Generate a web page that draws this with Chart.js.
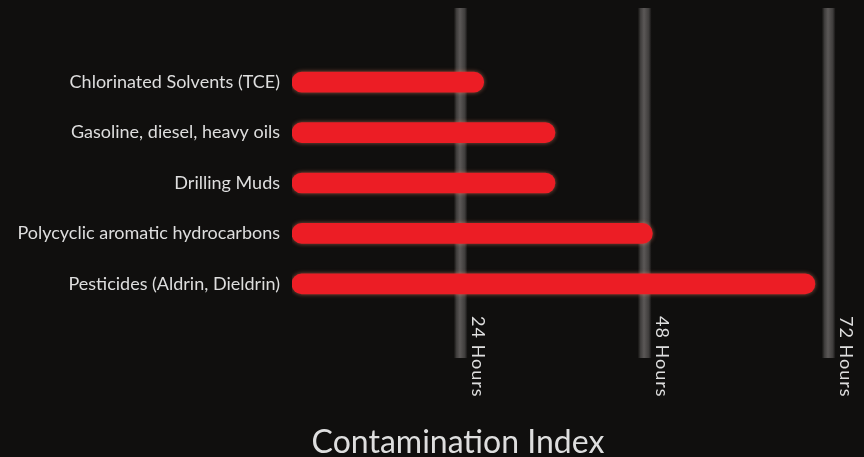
<!DOCTYPE html>
<html>
<head>
<meta charset="utf-8">
<script src="https://cdn.jsdelivr.net/npm/chart.js@4"></script>
<style>
  html, body { margin: 0; padding: 0; background: #100f0e; }
  #wrap { width: 864px; height: 457px; }
</style>
</head>
<body>
<div id="wrap"><canvas id="chart"></canvas></div>
<script>
const categories = [
  'Chlorinated Solvents (TCE)',
  'Gasoline, diesel, heavy oils',
  'Drilling Muds',
  'Polycyclic aromatic hydrocarbons',
  'Pesticides (Aldrin, Dieldrin)'
];
const barStart = 2;
const hours = [27, 36.3, 36.3, 49, 70.2];
const markerValues = [24, 48, 72];
const markerLabels = ['24 Hours', '48 Hours', '72 Hours'];
const axisTitle = 'Contamination Index';

const FONT = 'Lato, sans-serif';

// grey stripes + rotated labels + bottom title
const stripes = {
  id: 'stripes',
  beforeDatasetsDraw(chart) {
    const { ctx, chartArea, scales } = chart;
    const top = chartArea.top - 49;
    const bottom = chartArea.bottom + 49;
    markerValues.forEach((v) => {
      const x = scales.x.getPixelForValue(v);
      const g = ctx.createLinearGradient(x - 7, 0, x + 7, 0);
      g.addColorStop(0, 'rgba(60,58,57,0)');
      g.addColorStop(0.2, '#3f3d3c');
      g.addColorStop(0.45, '#5b5857');
      g.addColorStop(0.8, '#3f3d3c');
      g.addColorStop(1, 'rgba(60,58,57,0)');
      ctx.save();
      ctx.fillStyle = g;
      ctx.fillRect(x - 7, top, 14, bottom - top);
      ctx.restore();
    });
  },
  afterDraw(chart) {
    const { ctx, chartArea, scales } = chart;
    ctx.save();
    ctx.fillStyle = '#dedede';
    ctx.font = '18px ' + FONT;
    ctx.letterSpacing = '1px';
    ctx.textBaseline = 'middle';
    ctx.textAlign = 'left';
    markerValues.forEach((v, i) => {
      const x = scales.x.getPixelForValue(v) + 17;
      ctx.save();
      ctx.translate(x, chartArea.bottom + 7);
      ctx.rotate(Math.PI / 2);
      ctx.fillText(markerLabels[i], 0, 0);
      ctx.restore();
    });
    ctx.letterSpacing = '0px';
    ctx.font = '32px ' + FONT;
    ctx.textAlign = 'center';
    ctx.textBaseline = 'alphabetic';
    ctx.fillText(axisTitle, 458, 453);
    ctx.restore();
  },
  beforeDatasetDraw(chart) {
    const ctx = chart.ctx;
    ctx.save();
    ctx.shadowColor = 'rgba(255,140,110,0.55)';
    ctx.shadowBlur = 4;
  },
  afterDatasetDraw(chart) {
    chart.ctx.restore();
  }
};

new Chart(document.getElementById('chart'), {
  type: 'bar',
  data: {
    labels: categories,
    datasets: [{
      data: hours.map(h => [barStart, h]),
      backgroundColor: '#ec1d25',
      borderWidth: 0,
      borderRadius: 10,
      borderSkipped: false,
      barThickness: 20
    }]
  },
  options: {
    indexAxis: 'y',
    responsive: true,
    maintainAspectRatio: false,
    animation: false,
    layout: { padding: { top: 57, bottom: 148, right: 20, left: 0 } },
    plugins: { legend: { display: false }, tooltip: { enabled: false } },
    scales: {
      x: {
        display: false,
        min: 2,
        max: 74
      },
      y: {
        grid: { display: false },
        border: { display: false },
        ticks: { color: '#dedede', font: { family: FONT, size: 18 }, padding: 4 },
        afterFit(scale) { scale.width = 292; }
      }
    }
  },
  plugins: [stripes]
});
</script>
</body>
</html>
